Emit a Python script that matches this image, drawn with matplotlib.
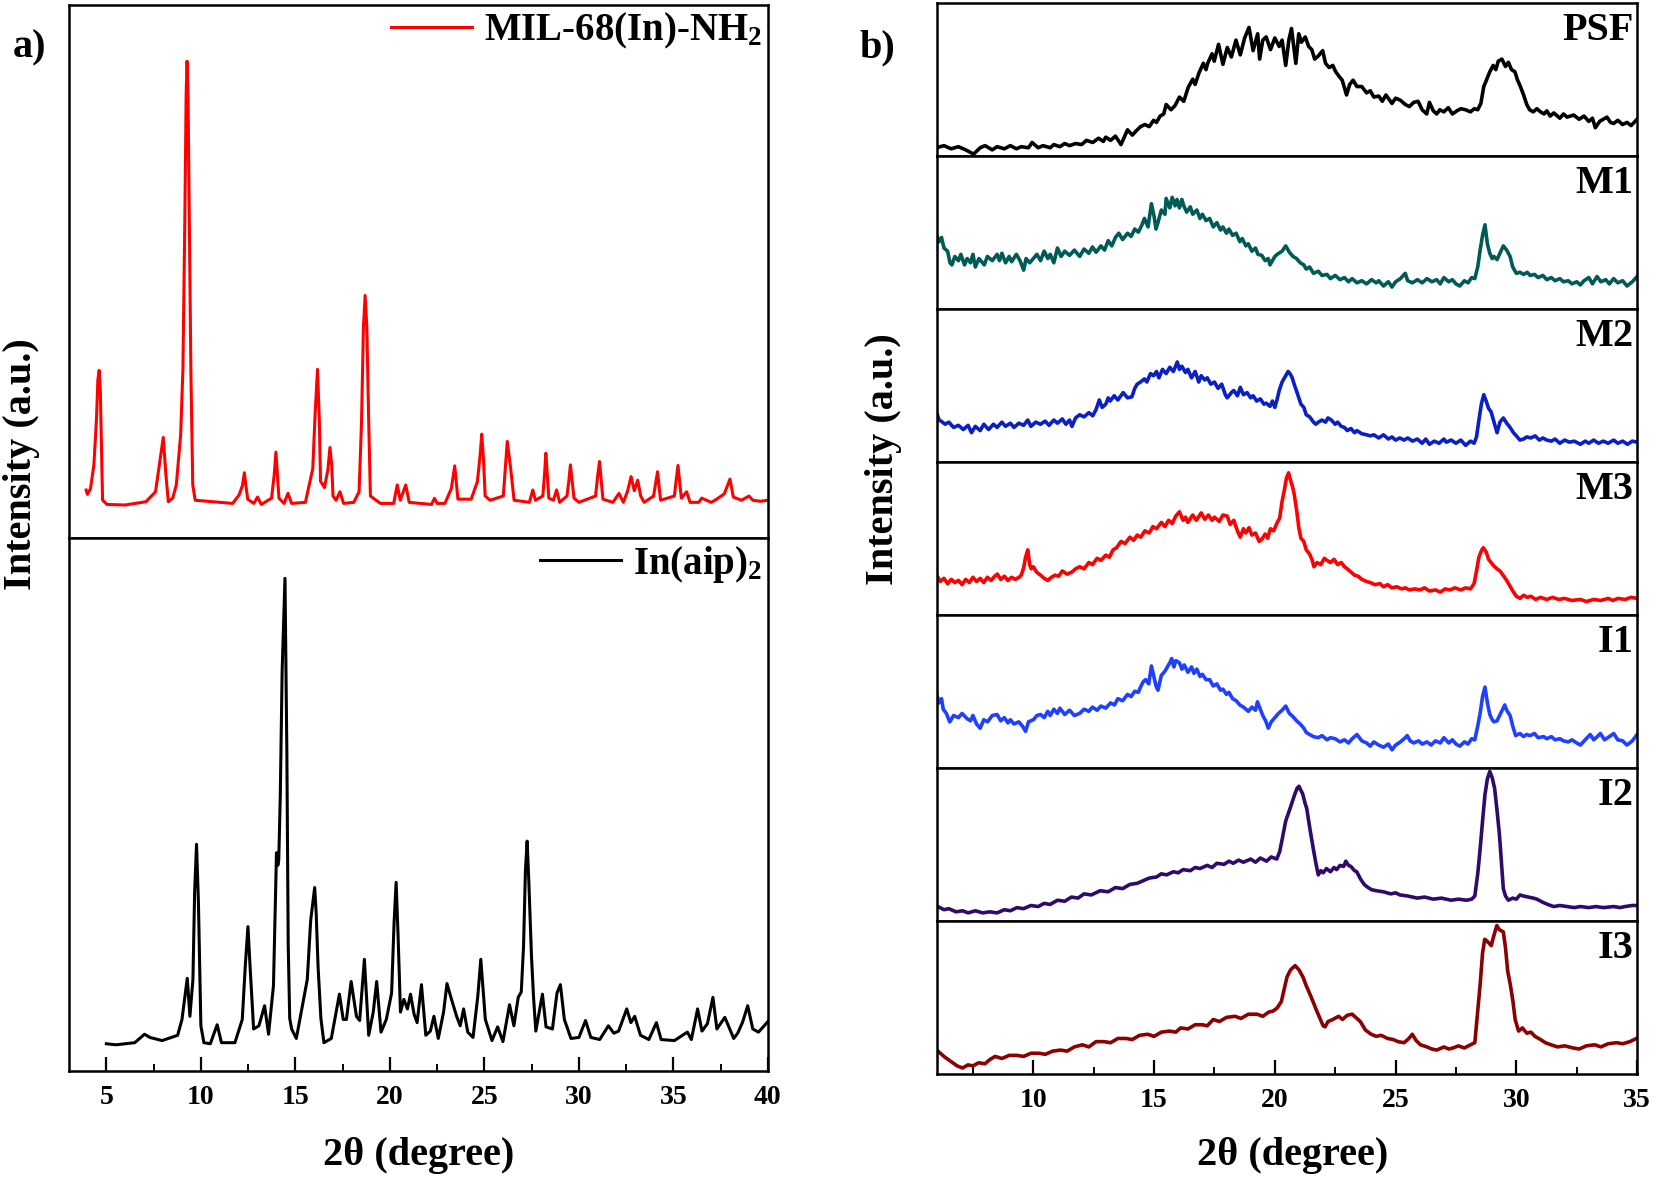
import matplotlib
matplotlib.use("Agg")
import matplotlib.pyplot as plt
from matplotlib.ticker import MultipleLocator

plt.rcParams['font.family'] = ['Liberation Serif', 'DejaVu Serif']
plt.rcParams['font.weight'] = 'bold'
plt.rcParams['mathtext.fontset'] = 'custom'
plt.rcParams['mathtext.bf'] = 'Liberation Serif:bold'
plt.rcParams['mathtext.rm'] = 'Liberation Serif:bold'
plt.rcParams['mathtext.default'] = 'bf'

# ---- a) MIL-68(In)-NH2 (red) ----
mil_x = [3.93, 4.0, 4.16, 4.34, 4.48, 4.55, 4.62, 4.68, 4.73, 4.8, 5.03, 6.0, 7.09, 7.6, 7.83, 8.01,
         8.15, 8.28, 8.51, 8.7, 8.93, 9.05, 9.15, 9.22, 9.27, 9.32, 9.39, 9.47, 9.57, 9.7, 11.68,
         12.02, 12.2, 12.3, 12.38, 12.48, 12.8, 13.0, 13.2, 13.74, 13.88, 13.97, 14.05, 14.13, 14.4,
         14.61, 14.8, 15.53, 15.92, 16.05, 16.17, 16.27, 16.33, 16.54, 16.72, 16.83, 16.92, 16.99,
         17.15, 17.36, 17.55, 18.09, 18.37, 18.5, 18.6, 18.69, 18.78, 18.88, 18.97, 19.5, 20.2,
         20.39, 20.55, 20.84, 21.02, 22.2, 22.36, 22.5, 22.91, 23.25, 23.43, 23.6, 24.3, 24.63,
         24.78, 24.86, 24.95, 25.04, 25.3, 26.0, 26.12, 26.21, 26.39, 26.57, 27.38, 27.56, 27.7,
         28.09, 28.18, 28.25, 28.33, 28.41, 28.65, 28.82, 28.98, 29.37, 29.47, 29.55, 29.64, 29.74,
         30.0, 30.88, 31.0, 31.09, 31.18, 31.27, 31.8, 32.12, 32.35, 32.58, 32.76, 32.93, 33.11,
         33.27, 33.45, 33.95, 34.16, 34.32, 35.05, 35.24, 35.42, 35.7, 35.88, 36.34, 36.5, 37.0,
         37.2, 37.69, 37.99, 38.17, 38.6, 39.0, 39.2, 39.6, 40.0]
mil_y = [45.7, 41.6, 47, 69.5, 114, 150, 159, 140, 98, 36, 32, 31.5, 34.6, 44, 72.7, 95.5,
         60, 34.6, 38, 50.5, 98, 160, 300, 420, 452, 420, 300, 160, 50.5, 36, 33,
         41, 50, 62, 50, 37, 33, 39, 32, 38, 60, 81.6, 60, 38, 33,
         42.5, 33, 34, 66, 120, 160, 110, 54, 48, 65, 86, 70, 40,
         36, 44, 33, 34, 44, 110, 200, 230, 200, 110, 40, 33, 33,
         50.5, 36, 50.5, 34, 32, 37.8, 33, 33, 47, 68.6, 37, 37, 53.6,
         80, 98.7, 75, 40, 36, 40, 70, 91.7, 66, 36, 34, 45.7, 36,
         40, 60, 80.6, 60, 38, 36, 45.7, 34, 40, 55, 69.5, 55, 38,
         34, 40, 60, 72.7, 55, 37, 34, 42.5, 34, 45, 58.4, 45, 55,
         40, 34, 40, 63, 36, 40, 69, 38, 44, 34, 34, 38, 34,
         36, 42, 56, 39, 36, 40, 36, 35, 36]

# ---- a) In(aip)2 (black) ----
aip_x = [5.0, 5.5, 6.0, 6.5, 7.02, 7.3, 7.95, 8.77, 9.0, 9.28, 9.42, 9.58, 9.67, 9.77, 9.87, 10.0,
         10.16, 10.5, 10.86, 11.09, 11.8, 12.19, 12.35, 12.49, 12.6, 12.79, 13.07, 13.37, 13.58,
         13.84, 13.93, 14.0, 14.07, 14.12, 14.2, 14.3, 14.45, 14.55, 14.62, 14.7, 14.8, 15.05, 15.63,
         15.81, 16.02, 16.1, 16.2, 16.35, 16.51, 16.9, 17.33, 17.53, 17.7, 17.95, 18.23, 18.4, 18.65,
         18.88, 19.12, 19.3, 19.53, 19.81, 20.09, 20.22, 20.33, 20.43, 20.56, 20.74, 20.93, 21.09,
         21.28, 21.44, 21.67, 21.9, 22.14, 22.33, 22.56, 22.84, 23.02, 23.26, 23.53, 23.72, 23.9,
         24.12, 24.4, 24.65, 24.81, 25.05, 25.4, 25.7, 25.98, 26.33, 26.56, 26.79, 26.95, 27.07,
         27.17, 27.26, 27.35, 27.49, 27.6, 27.72, 28.07, 28.26, 28.6, 28.84, 29.02, 29.23, 29.58,
         30.0, 30.35, 30.63, 31.1, 31.56, 31.85, 32.1, 32.53, 32.75, 32.95, 33.26, 33.7, 34.1,
         34.35, 35.05, 35.74, 35.95, 36.28, 36.51, 36.8, 37.09, 37.3, 37.72, 38.19, 38.4, 38.65,
         38.93, 39.2, 39.5, 40.0]
aip_y = [26, 25, 26, 27, 35, 32, 29, 34, 49, 88, 52, 87, 170, 215, 160, 43,
         27, 26, 44, 27, 27, 49, 100, 137, 100, 40, 43, 62, 35,
         81, 150, 207, 195, 200, 260, 380, 467, 300, 120, 50, 40, 31, 87,
         143, 174, 150, 99, 50, 27, 31, 73, 49, 49, 85, 52, 48, 106,
         34, 56, 85, 37, 49, 74, 140, 179, 130, 56, 68, 59, 73,
         54, 46, 82, 34, 38, 52, 31, 56, 83, 68, 52, 43, 59,
         37, 32, 71, 106, 49, 29, 42, 28, 63, 43, 70, 75, 118,
         190, 218, 180, 109, 70, 38, 73, 42, 40, 74, 82, 49, 31,
         32, 48, 32, 30, 43, 36, 38, 59, 46, 52, 34, 30, 46,
         30, 29, 37, 30, 59, 38, 45, 70, 40, 51, 31, 36, 46,
         62, 40, 37, 47]

# ---- b) membranes ----
psf_x = [6.0, 6.3, 6.6, 6.9, 7.2, 7.53, 7.8, 8.0, 8.3, 8.5, 8.8, 9.05, 9.3, 9.5, 9.8, 9.95, 10.2,
         10.4, 10.7, 10.85, 11.1, 11.3, 11.5, 11.75, 12.0, 12.2, 12.46, 12.7, 12.9, 13.0, 13.2,
         13.4, 13.63, 13.9, 14.1, 14.26, 14.44, 14.62, 14.8, 14.98, 15.1, 15.25, 15.4, 15.5, 15.7,
         15.87, 16.05, 16.23, 16.41, 16.6, 16.7, 16.86, 17.04, 17.15, 17.22, 17.4, 17.49, 17.67,
         17.85, 18.03, 18.2, 18.39, 18.57, 18.75, 18.93, 19.1, 19.29, 19.37, 19.5, 19.64, 19.82,
         20.0, 20.18, 20.3, 20.45, 20.58, 20.69, 20.87, 20.99, 21.1, 21.26, 21.4, 21.53, 21.65,
         21.8, 21.98, 22.1, 22.25, 22.4, 22.52, 22.65, 22.79, 22.97, 23.1, 23.24, 23.4, 23.6, 23.8,
         23.95, 24.1, 24.3, 24.45, 24.6, 24.85, 25.0, 25.2, 25.4, 25.57, 25.75, 25.93, 26.1, 26.29,
         26.4, 26.56, 26.7, 26.83, 27.0, 27.18, 27.35, 27.54, 27.7, 27.9, 28.1, 28.26, 28.4, 28.53,
         28.65, 28.76, 28.9, 29.04, 29.15, 29.25, 29.4, 29.55, 29.67, 29.8, 29.94, 30.05, 30.15,
         30.3, 30.43, 30.55, 30.7, 30.85, 31.0, 31.15, 31.26, 31.4, 31.55, 31.8, 31.95, 32.1, 32.37,
         32.6, 32.8, 33.0, 33.15, 33.27, 33.45, 33.6, 33.75, 33.9, 34.03, 34.2, 34.4, 34.58, 34.75,
         35.0]
psf_y = [8, 10, 7, 9, 6, 2, 8, 10, 6, 9, 7, 10, 7, 9, 8, 13, 8,
         10, 8, 11, 9, 12, 10, 12, 11, 15, 13, 17, 14, 18, 15,
         19, 11, 25, 20, 24, 28, 30, 28, 34, 32, 38, 40, 49, 44,
         48, 56, 52, 65, 73, 68, 79, 88, 82, 88, 97, 90, 106,
         87, 103, 94, 110, 96, 112, 122, 100, 116, 92, 110, 113, 101,
         112, 104, 110, 86, 110, 121, 88, 116, 108, 113, 104, 101, 92,
         95, 100, 88, 84, 86, 80, 76, 72, 58, 68, 72, 66, 66, 60,
         62, 56, 57, 52, 58, 50, 55, 53, 49, 47, 51, 52, 44, 40,
         51, 43, 40, 44, 42, 46, 40, 43, 45, 44, 42, 45, 44, 50,
         66, 72, 80, 86, 82, 90, 92, 85, 89, 82, 80, 72, 67,
         58, 49, 44, 42, 45, 42, 40, 43, 38, 41, 36, 40, 37, 39,
         35, 38, 33, 36, 27, 33, 35, 37, 32, 31, 34, 30, 32, 29,
         35]

m1_x = [6.0, 6.1, 6.2, 6.3, 6.45, 6.55, 6.63, 6.75, 6.9, 7.0, 7.15, 7.26, 7.4, 7.5, 7.6, 7.75,
        7.97, 8.1, 8.3, 8.5, 8.6, 8.7, 8.85, 9.0, 9.1, 9.3, 9.45, 9.6, 9.7, 9.85, 10.0, 10.15,
        10.3, 10.45, 10.6, 10.7, 10.85, 11.0, 11.15, 11.3, 11.5, 11.7, 11.92, 12.1, 12.3, 12.45,
        12.6, 12.8, 12.95, 13.1, 13.25, 13.4, 13.54, 13.7, 13.9, 14.05, 14.2, 14.35, 14.5, 14.6,
        14.75, 14.89, 15.0, 15.08, 15.16, 15.3, 15.45, 15.5, 15.65, 15.75, 15.87, 15.95, 16.05,
        16.15, 16.23, 16.35, 16.5, 16.6, 16.77, 16.9, 17.0, 17.15, 17.3, 17.45, 17.6, 17.75, 17.85,
        18.0, 18.1, 18.25, 18.4, 18.55, 18.65, 18.8, 18.9, 19.05, 19.2, 19.3, 19.46, 19.6, 19.73,
        19.8, 20.0, 20.1, 20.3, 20.45, 20.6, 20.75, 20.9, 21.05, 21.2, 21.3, 21.44, 21.6, 21.8,
        21.95, 22.16, 22.3, 22.5, 22.7, 22.88, 23.05, 23.2, 23.4, 23.6, 23.8, 24.0, 24.2, 24.3,
        24.5, 24.7, 24.85, 25.0, 25.2, 25.4, 25.5, 25.7, 25.9, 26.1, 26.3, 26.5, 26.7, 26.85, 27.0,
        27.2, 27.35, 27.5, 27.66, 27.85, 28.0, 28.15, 28.28, 28.4, 28.5, 28.6, 28.7, 28.8, 28.9,
        29.0, 29.07, 29.2, 29.3, 29.46, 29.6, 29.74, 29.85, 30.0, 30.15, 30.3, 30.45, 30.57, 30.75,
        30.9, 31.1, 31.26, 31.45, 31.6, 31.8, 31.95, 32.15, 32.3, 32.5, 32.65, 32.8, 33.0, 33.15,
        33.34, 33.5, 33.7, 33.85, 34.03, 34.2, 34.4, 34.58, 34.8, 35.0]
m1_y = [70, 64, 68, 58, 55, 44, 42, 50, 46, 52, 42, 48, 44, 52, 40, 48,
        42, 50, 46, 52, 46, 53, 44, 50, 45, 52, 46, 37, 48, 44, 48, 52,
        46, 55, 48, 52, 44, 58, 50, 55, 51, 56, 50, 57, 53, 59,
        54, 60, 56, 65, 60, 68, 72, 66, 72, 69, 76, 73, 80, 86,
        78, 100, 88, 76, 82, 94, 90, 105, 96, 106, 98, 104, 96,
        104, 98, 92, 97, 90, 94, 86, 90, 84, 86, 78, 82, 75, 78,
        72, 76, 70, 72, 64, 67, 60, 62, 55, 58, 52, 51, 46, 48,
        42, 50, 52, 55, 60, 54, 50, 48, 44, 42, 38, 40, 34, 36,
        32, 33, 29, 32, 28, 30, 26, 29, 25, 27, 24, 28, 25, 27,
        22, 26, 21, 26, 29, 34, 27, 25, 28, 25, 29, 26, 28, 24, 30,
        26, 28, 24, 22, 27, 25, 30, 29, 40, 56, 70, 80, 62, 53,
        48, 50, 47, 52, 60, 56, 50, 40, 34, 35, 33, 35, 32, 33,
        30, 32, 28, 30, 27, 29, 26, 27, 24, 26, 23, 27, 30, 24,
        31, 26, 28, 24, 29, 25, 27, 22, 26, 31]

m2_x = [6.0, 6.1, 6.18, 6.35, 6.5, 6.7, 6.9, 7.1, 7.3, 7.44, 7.6, 7.8, 7.95, 8.15, 8.35, 8.5, 8.7,
        8.85, 9.05, 9.2, 9.4, 9.6, 9.77, 9.9, 10.1, 10.3, 10.49, 10.65, 10.85, 11.0, 11.2, 11.35,
        11.5, 11.6, 11.75, 11.92, 12.1, 12.3, 12.46, 12.6, 12.73, 12.85, 13.0, 13.1, 13.18, 13.35,
        13.5, 13.72, 13.9, 14.08, 14.2, 14.3, 14.44, 14.6, 14.7, 14.85, 14.98, 15.1, 15.2, 15.35,
        15.5, 15.65, 15.8, 15.96, 16.05, 16.15, 16.3, 16.4, 16.55, 16.7, 16.85, 16.95, 17.1, 17.2,
        17.35, 17.5, 17.65, 17.8, 17.95, 18.03, 18.2, 18.3, 18.45, 18.57, 18.7, 18.85, 19.0, 19.1,
        19.25, 19.4, 19.55, 19.64, 19.8, 19.9, 20.0, 20.1, 20.18, 20.3, 20.45, 20.55, 20.63, 20.72,
        20.8, 20.95, 21.08, 21.2, 21.3, 21.44, 21.6, 21.7, 21.8, 21.95, 22.1, 22.2, 22.34, 22.5,
        22.6, 22.75, 22.88, 23.0, 23.15, 23.3, 23.4, 23.6, 23.8, 23.95, 24.1, 24.3, 24.5, 24.7,
        24.85, 25.0, 25.17, 25.35, 25.5, 25.7, 25.9, 26.1, 26.25, 26.4, 26.6, 26.8, 27.0, 27.1,
        27.3, 27.5, 27.7, 27.9, 28.1, 28.25, 28.35, 28.45, 28.55, 28.65, 28.75, 28.85, 28.95,
        29.05, 29.2, 29.32, 29.46, 29.6, 29.74, 29.88, 30.0, 30.15, 30.3, 30.43, 30.6, 30.78,
        30.95, 31.1, 31.26, 31.45, 31.6, 31.8, 32.0, 32.2, 32.4, 32.65, 32.85, 33.0, 33.2, 33.4,
        33.6, 33.8, 34.03, 34.2, 34.4, 34.6, 34.8, 35.0]
m2_y = [47, 40, 39, 36, 38, 33, 35, 31, 35, 28, 34, 30, 36, 31, 36, 33, 38,
        34, 37, 33, 37, 35, 40, 34, 38, 36, 39, 35, 40, 37, 41, 36,
        40, 34, 42, 45, 43, 47, 44, 50, 59, 52, 55, 61, 58, 63,
        59, 66, 61, 62, 70, 74, 76, 79, 76, 84, 82, 86, 80, 88,
        84, 90, 86, 95, 88, 91, 85, 88, 80, 86, 76, 82, 78, 80,
        74, 76, 70, 74, 64, 61, 66, 68, 63, 71, 64, 66, 61, 63,
        58, 60, 55, 56, 53, 58, 52, 60, 68, 76, 82, 86, 84, 80,
        74, 64, 55, 52, 45, 43, 38, 36, 38, 40, 38, 42, 40, 36,
        38, 34, 33, 30, 32, 28, 30, 27, 26, 25, 26, 23, 26, 22,
        24, 21, 23, 21, 23, 20, 22, 18, 22, 17, 20, 18, 22, 19,
        21, 18, 21, 16, 20, 18, 24, 40, 55, 64, 58, 51, 48,
        40, 28, 38, 42, 37, 33, 28, 25, 21, 22, 24, 23, 25,
        21, 23, 21, 20, 22, 18, 21, 19, 20, 17, 20, 18, 21, 18,
        20, 18, 21, 18, 20, 17, 20, 19]

m3_x = [6.0, 6.15, 6.3, 6.45, 6.6, 6.75, 6.9, 7.05, 7.2, 7.35, 7.5, 7.65, 7.8, 7.95, 8.1, 8.25,
        8.4, 8.51, 8.65, 8.8, 8.95, 9.1, 9.25, 9.41, 9.5, 9.6, 9.68, 9.77, 9.85, 9.91, 10.0, 10.13,
        10.3, 10.45, 10.6, 10.75, 10.9, 11.05, 11.2, 11.4, 11.6, 11.75, 11.92, 12.1, 12.3, 12.45,
        12.64, 12.8, 13.0, 13.15, 13.3, 13.45, 13.63, 13.8, 14.0, 14.15, 14.3, 14.45, 14.62, 14.8,
        14.95, 15.1, 15.3, 15.45, 15.6, 15.75, 15.9, 16.05, 16.2, 16.3, 16.4, 16.6, 16.75, 16.95,
        17.1, 17.25, 17.4, 17.5, 17.7, 17.85, 18.03, 18.15, 18.3, 18.45, 18.57, 18.7, 18.8, 18.93,
        19.05, 19.2, 19.35, 19.46, 19.6, 19.7, 19.82, 19.95, 20.1, 20.2, 20.3, 20.39, 20.48, 20.57,
        20.65, 20.73, 20.8, 20.9, 21.0, 21.08, 21.2, 21.3, 21.44, 21.55, 21.62, 21.75, 21.9, 22.05,
        22.16, 22.3, 22.45, 22.6, 22.75, 22.88, 23.0, 23.15, 23.3, 23.45, 23.6, 23.8, 23.95, 24.15,
        24.35, 24.5, 24.67, 24.85, 25.05, 25.25, 25.4, 25.57, 25.8, 26.0, 26.2, 26.4, 26.65, 26.85,
        27.05, 27.25, 27.45, 27.7, 27.9, 28.1, 28.25, 28.35, 28.45, 28.55, 28.63, 28.75, 28.85,
        28.95, 29.1, 29.2, 29.32, 29.45, 29.6, 29.75, 29.88, 30.0, 30.15, 30.3, 30.45, 30.6, 30.8,
        31.0, 31.26, 31.5, 31.75, 32.0, 32.3, 32.65, 32.9, 33.2, 33.5, 33.8, 34.0, 34.2, 34.5,
        34.75, 35.0]
m3_y = [38, 32, 35, 30, 34, 31, 33, 29, 34, 31, 36, 32, 35, 31, 36, 33,
        37, 39, 34, 37, 33, 36, 34, 36, 38, 45, 55, 62, 48, 44, 46, 41,
        38, 35, 33, 36, 38, 37, 42, 39, 41, 44, 46, 44, 50, 48,
        54, 52, 57, 55, 62, 64, 70, 68, 74, 71, 76, 74, 80, 78,
        84, 82, 88, 84, 90, 87, 94, 98, 90, 93, 88, 95, 90, 97,
        91, 95, 90, 93, 89, 95, 94, 86, 90, 80, 74, 82, 78, 83,
        76, 78, 70, 72, 77, 73, 82, 80, 88, 92, 108, 118, 130, 135,
        128, 122, 115, 100, 82, 73, 70, 62, 58, 52, 46, 50, 48, 54,
        52, 50, 53, 48, 50, 46, 44, 41, 38, 37, 34, 32, 31, 29,
        30, 27, 29, 26, 27, 25, 26, 24, 25, 24, 26, 23, 24, 22,
        25, 24, 26, 24, 26, 25, 30, 42, 55, 61, 64, 60, 53,
        50, 46, 44, 42, 38, 33, 27, 22, 18, 16, 19, 17, 18, 15,
        17, 15, 17, 15, 16, 14, 15, 13, 15, 14, 16, 14, 16, 15,
        17, 16]

i1_x = [6.0, 6.1, 6.2, 6.27, 6.4, 6.54, 6.7, 6.9, 7.05, 7.26, 7.4, 7.5, 7.65, 7.8, 7.95, 8.1, 8.3,
        8.5, 8.65, 8.8, 8.95, 9.05, 9.2, 9.4, 9.55, 9.68, 9.8, 10.0, 10.15, 10.3, 10.45, 10.6,
        10.7, 10.85, 11.0, 11.1, 11.3, 11.5, 11.7, 11.92, 12.1, 12.3, 12.45, 12.64, 12.8, 13.0,
        13.2, 13.36, 13.5, 13.7, 13.9, 14.05, 14.2, 14.35, 14.44, 14.55, 14.65, 14.78, 14.89, 15.0,
        15.08, 15.16, 15.3, 15.45, 15.55, 15.65, 15.73, 15.82, 15.9, 16.05, 16.15, 16.25, 16.4,
        16.55, 16.65, 16.77, 16.9, 17.0, 17.15, 17.3, 17.45, 17.6, 17.75, 17.85, 18.0, 18.1, 18.25,
        18.4, 18.55, 18.7, 18.9, 19.05, 19.2, 19.28, 19.4, 19.5, 19.62, 19.73, 19.85, 20.0, 20.15,
        20.3, 20.45, 20.6, 20.75, 20.9, 21.05, 21.2, 21.3, 21.44, 21.6, 21.8, 21.95, 22.16, 22.3,
        22.5, 22.7, 22.88, 23.05, 23.2, 23.4, 23.6, 23.8, 23.95, 24.1, 24.3, 24.5, 24.7, 24.85,
        25.0, 25.2, 25.4, 25.48, 25.6, 25.75, 25.95, 26.1, 26.3, 26.47, 26.65, 26.85, 27.0, 27.2,
        27.35, 27.5, 27.66, 27.85, 28.0, 28.15, 28.28, 28.4, 28.5, 28.6, 28.7, 28.8, 28.9, 29.0,
        29.07, 29.2, 29.35, 29.52, 29.6, 29.74, 29.85, 29.97, 30.15, 30.3, 30.42, 30.57, 30.75,
        30.9, 31.13, 31.26, 31.45, 31.6, 31.8, 31.95, 32.15, 32.3, 32.5, 32.65, 32.85, 33.06, 33.2,
        33.35, 33.48, 33.65, 33.85, 34.03, 34.2, 34.4, 34.58, 34.8, 35.0]
i1_y = [70, 62, 66, 56, 52, 44, 50, 48, 52, 47, 45, 50, 42, 38, 46, 44, 50,
        51, 45, 48, 43, 46, 42, 44, 40, 35, 44, 46, 50, 51, 48, 54,
        50, 56, 52, 57, 51, 55, 50, 52, 56, 54, 58, 55, 59, 57,
        62, 60, 66, 64, 70, 68, 73, 72, 77, 82, 84, 80, 97, 86,
        78, 74, 88, 92, 96, 100, 104, 96, 102, 100, 94, 98, 91,
        96, 90, 94, 87, 89, 84, 84, 78, 80, 74, 75, 70, 72, 66,
        64, 60, 58, 54, 58, 55, 63, 56, 50, 45, 38, 44, 48, 52,
        55, 59, 52, 49, 45, 42, 38, 34, 32, 30, 29, 31, 27, 29,
        28, 25, 27, 24, 28, 32, 26, 24, 21, 25, 22, 20, 23, 17.5,
        22, 25, 29, 31, 26, 24, 26, 23, 25, 22, 26, 24, 29, 24,
        27, 23, 21, 25, 23, 28, 27, 40, 52, 68, 77, 62, 51, 46,
        44, 45, 52, 60, 55, 50, 40, 31, 33, 30, 32, 31, 33,
        29, 30, 28, 30, 27, 28, 26, 25, 27, 24, 22, 27, 32, 27,
        30, 33, 27, 30, 33, 27, 26, 22, 26, 32]

i2_x = [6.05, 6.3, 6.5, 6.8, 7.07, 7.3, 7.6, 7.9, 8.2, 8.5, 8.8, 9.05, 9.32, 9.6, 9.9, 10.2,
        10.45, 10.7, 11.0, 11.3, 11.58, 11.85, 12.1, 12.4, 12.77, 13.1, 13.4, 13.7, 14.0, 14.3,
        14.6, 14.8, 15.1, 15.3, 15.52, 15.8, 16.0, 16.2, 16.5, 16.7, 16.9, 17.2, 17.4, 17.6, 17.9,
        18.1, 18.28, 18.5, 18.7, 19.0, 19.2, 19.4, 19.66, 19.85, 20.08, 20.2, 20.28, 20.45, 20.63,
        20.82, 20.92, 21.0, 21.08, 21.15, 21.25, 21.32, 21.45, 21.59, 21.7, 21.8, 21.9, 22.0,
        22.14, 22.3, 22.45, 22.56, 22.7, 22.85, 22.94, 23.05, 23.15, 23.3, 23.39, 23.55, 23.7,
        23.8, 24.0, 24.2, 24.49, 24.8, 25.0, 25.18, 25.5, 25.9, 26.2, 26.56, 26.9, 27.3, 27.6,
        27.94, 28.15, 28.28, 28.4, 28.49, 28.6, 28.7, 28.8, 28.9, 29.0, 29.1, 29.2, 29.3, 29.4,
        29.46, 29.55, 29.67, 29.85, 30.0, 30.15, 30.29, 30.5, 30.7, 30.85, 31.1, 31.3, 31.54,
        31.8, 32.1, 32.4, 32.65, 33.0, 33.3, 33.6, 34.03, 34.3, 34.5, 34.8, 35.0]
i2_y = [14, 11, 12, 9, 10, 8, 10, 8, 9, 8, 11, 10, 13, 12, 15, 14,
        17, 16, 20, 19, 23, 22, 26, 25, 29, 28, 32, 31, 35, 36,
        39, 41, 42, 45, 44, 47, 46, 49, 48, 51, 50, 53, 51, 55, 54,
        57, 55, 58, 56, 59, 56, 60, 57, 61, 59, 66, 75, 95, 107,
        120, 126, 128, 124, 121, 112, 107, 88, 69, 55, 44, 48, 46,
        50, 47, 51, 49, 53, 52, 57, 53, 52, 48, 47, 40, 35,
        33, 30, 29, 28, 26, 27, 25, 24, 22, 23, 21, 22, 20, 21,
        20, 21, 24, 45, 66, 95, 120, 135, 142, 136, 126, 105, 82, 50,
        31, 24, 20, 22, 21, 25, 24, 23, 22, 21, 18, 16, 14,
        15, 14, 13, 14, 13, 14, 13, 14, 13, 14, 15, 15]

i3_x = [6.05, 6.3, 6.6, 6.85, 7.07, 7.3, 7.5, 7.74, 8.0, 8.2, 8.42, 8.7, 9.0, 9.32, 9.6, 9.9,
        10.23, 10.5, 10.8, 11.13, 11.4, 11.7, 12.03, 12.3, 12.6, 12.93, 13.2, 13.5, 13.84, 14.1,
        14.4, 14.74, 15.0, 15.3, 15.64, 15.9, 16.1, 16.4, 16.7, 17.0, 17.2, 17.45, 17.7, 18.0,
        18.35, 18.6, 18.9, 19.26, 19.5, 19.75, 19.93, 20.1, 20.27, 20.4, 20.5, 20.65, 20.84, 21.0,
        21.17, 21.3, 21.51, 21.7, 21.85, 22.0, 22.08, 22.2, 22.4, 22.64, 22.8, 23.0, 23.2, 23.35,
        23.54, 23.75, 23.99, 24.2, 24.4, 24.67, 24.9, 25.1, 25.35, 25.55, 25.69, 25.85, 26.03,
        26.3, 26.5, 26.7, 27.0, 27.2, 27.38, 27.6, 27.85, 28.1, 28.28, 28.4, 28.5, 28.6, 28.69,
        28.8, 28.96, 29.05, 29.19, 29.3, 29.46, 29.55, 29.64, 29.75, 29.86, 29.95, 30.09, 30.25,
        30.43, 30.6, 30.77, 31.0, 31.2, 31.44, 31.7, 32.0, 32.35, 32.6, 32.9, 33.25, 33.5, 33.8,
        34.15, 34.4, 34.7, 34.97]
i3_y = [22, 17, 12, 8, 6, 9, 8, 11, 10, 14, 17, 15, 18, 18, 17, 20,
        20, 19, 22, 23, 22, 26, 28, 26, 31, 31, 30, 34, 34, 33,
        37, 38, 36, 40, 41, 40, 44, 43, 47, 47, 46, 52, 50, 54,
        55, 53, 57, 57, 55, 59, 60, 63, 69, 82, 92, 99, 103, 99,
        92, 84, 73, 62, 54, 46, 45, 50, 52, 55, 52, 56, 57, 54,
        50, 42, 38, 36, 37, 34, 33, 31, 30, 34, 38, 32, 28,
        26, 24, 23, 26, 24, 25, 27, 25, 28, 30, 60, 85, 115, 128,
        126, 122, 130, 141, 137, 135, 120, 98, 85, 69, 52, 41, 44,
        39, 40, 36, 33, 30, 28, 26, 27, 25, 24, 27, 28, 26, 29,
        30, 29, 31, 34]

samples = ['PSF', 'M1', 'M2', 'M3', 'I1', 'I2', 'I3']
sample_x = [psf_x, m1_x, m2_x, m3_x, i1_x, i2_x, i3_x]
sample_y = [psf_y, m1_y, m2_y, m3_y, i1_y, i2_y, i3_y]
sample_colors = ['#000000', '#005b57', '#0a1fc4', '#ff0000', '#1f40ff', '#2f0a68', '#8b0000']

W, H = 1568.0, 1120.0   # layout measured on the picture
fig = plt.figure(figsize=(16.54, 11.82), dpi=100)


def style_axes(ax, bottom):
    for s in ax.spines.values():
        s.set_linewidth(1.8)
    ax.set_yticks([])
    if bottom:
        ax.xaxis.set_minor_locator(MultipleLocator(2.5))
        ax.tick_params(axis='x', which='major', direction='in', length=10, width=1.6,
                       labelsize=20, pad=10)
        ax.tick_params(axis='x', which='minor', direction='in', length=5, width=1.4)
    else:
        ax.tick_params(axis='x', which='both', bottom=False, labelbottom=False)


# ---- panel a ----
l, r = 65 / W, 728 / W
top_a, mid_a, bot_a = 1 - 5 / H, 1 - 510 / H, 1 - 1015 / H
ax1 = fig.add_axes([l, mid_a, r - l, top_a - mid_a])
ax2 = fig.add_axes([l, bot_a, r - l, mid_a - bot_a])
ax1.plot(mil_x, mil_y, color='#ff0000', lw=2.2, label='MIL-68(In)-NH$_2$')
ax2.plot(aip_x, aip_y, color='black', lw=2.2, label='In(aip)$_2$')
for ax, bottom in [(ax1, False), (ax2, True)]:
    ax.set_xlim(3, 40)
    ax.set_ylim(0, 505)
    ax.set_xticks(range(5, 41, 5))
    style_axes(ax, bottom)
    ax.legend(loc='upper right', frameon=False, fontsize=28, handlelength=2.1,
              handletextpad=0.3, borderaxespad=0.0, borderpad=0.15)

# ---- panel b ----
lb, rb = 888 / W, 1552 / W
top_b, bot_b = 1 - 3 / H, 1 - 1018 / H
hb = (top_b - bot_b) / len(samples)
for k, name in enumerate(samples):
    ax = fig.add_axes([lb, top_b - (k + 1) * hb, rb - lb, hb])
    ax.plot(sample_x[k], sample_y[k], color=sample_colors[k], lw=2.6)
    ax.set_xlim(6, 35)
    ax.set_ylim(0, 145)
    ax.set_xticks(range(10, 36, 5))
    style_axes(ax, k == len(samples) - 1)
    ax.text(0.995, 0.82, name, transform=ax.transAxes, ha='right', va='center', fontsize=29)

# ---- labels ----
fig.text(28 / W, 1 - 45 / H, 'a)', fontsize=29, ha='center', va='center')
fig.text(832 / W, 1 - 45 / H, 'b)', fontsize=29, ha='center', va='center')
fig.text(20 / W, 1 - 440 / H, 'Intensity (a.u.)', fontsize=29, rotation=90,
         ha='center', va='center')
fig.text(838 / W, 1 - 435 / H, 'Intensity (a.u.)', fontsize=29, rotation=90,
         ha='center', va='center')
fig.text(397 / W, 1 - 1095 / H, '2θ (degree)', fontsize=29, ha='center', va='center')
fig.text(1225 / W, 1 - 1095 / H, '2θ (degree)', fontsize=29, ha='center', va='center')

fig.savefig('out.png', dpi=100)
